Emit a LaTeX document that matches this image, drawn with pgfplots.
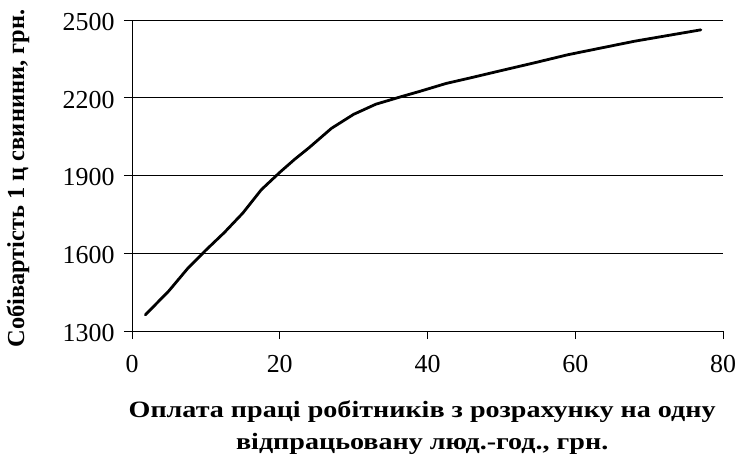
\documentclass[border=0pt]{standalone}
\usepackage{fontspec}
\setmainfont{Liberation Serif}
\newfontfamily\xlabfont[FakeStretch=1.2]{Liberation Serif}
\usepackage{pgfplots}
\pgfplotsset{compat=1.18}
\begin{document}
\begin{tikzpicture}
\begin{axis}[
  name=ax,
  scale only axis,
  width=591bp, height=311bp,
  xmin=0, xmax=80, ymin=1300, ymax=2500,
  xtick={0,20,40,60,80},
  ytick={1300,1600,1900,2200,2500},
  axis x line*=bottom, axis y line*=left,
  axis line style={black, line width=0.8pt, -},
  tick align=outside,
  major tick length=8bp,
  tick style={black, line width=0.8pt},
  ymajorgrids,
  grid style={black, line width=0.7pt},
  /pgf/number format/assume math mode=true,
  /pgf/number format/1000 sep={},
  tick label style={font=\fontsize{26}{30}\selectfont},
  xticklabel style={yshift=-13bp},
  yticklabel style={xshift=-6bp, yshift=-2bp},
  xlabel={\xlabfont\fontsize{23.5}{32}\selectfont\bfseries\begin{tabular}{c}Оплата праці робітників з розрахунку на одну\\відпрацьовану люд.-год., грн.\end{tabular}},
  ylabel={\fontsize{24.5}{28}\selectfont\bfseries Собівартість 1 ц свинини, грн.},
  xlabel style={at={(axis description cs:0.491,-0.309)}, anchor=center},
  ylabel style={at={(axis description cs:-0.193,0.49)}, anchor=center},
]
\addplot[black, line width=2.8pt, no markers, line join=round, line cap=round] coordinates {
(1.8,1362) (5,1455) (7.5,1540) (10,1612) (12.5,1680) (15,1755) (17.5,1845)
(20,1912) (22,1962) (24,2008) (27,2082) (30,2136) (33,2175) (36.3,2203)
(39,2225) (42.5,2255) (46,2278) (50,2305) (54.5,2335) (59,2366)
(63.5,2392) (68,2418) (72.5,2440) (77,2462)
};
\end{axis}
\pgfresetboundingbox
\path ([xshift=-132bp,yshift=-128bp]ax.south west) rectangle ([xshift=17bp,yshift=20bp]ax.north east);
\end{tikzpicture}
\end{document}
